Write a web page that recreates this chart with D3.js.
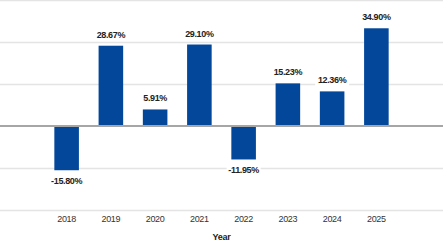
<!DOCTYPE html>
<html>
<head>
<meta charset="utf-8">
<script src="https://cdn.jsdelivr.net/npm/d3@7"></script>
<style>
  body { margin: 0; background: #fff; }
  svg { display: block; }
</style>
</head>
<body>
<div id="chart"></div>
<script>
var years = ["2018", "2019", "2020", "2021", "2022", "2023", "2024", "2025"];
var returns = [-15.80, 28.67, 5.91, 29.10, -11.95, 15.23, 12.36, 34.90];
var gridValues = [-30, -15, 0, 15, 30, 45];

var width = 443;
var height = 247;

var svg = d3.select('#chart')
  .append('svg')
  .attr('width', width)
  .attr('height', height);

var x = d3.scaleBand()
  .domain(years)
  .range([44.5, 398.5])
  .paddingInner(0.445)
  .paddingOuter(0.2225);

var y = d3.scaleLinear()
  .domain([-30, 45])
  .range([210, 0]);

// gridlines
svg.append('g')
  .selectAll('line')
  .data(gridValues.filter(function(d) { return d !== 0; }))
  .enter()
  .append('line')
  .attr('x1', 0)
  .attr('x2', width)
  .attr('y1', function(d) { return y(d) + 0.5; })
  .attr('y2', function(d) { return y(d) + 0.5; })
  .attr('stroke', '#e4e4e4')
  .attr('stroke-width', 1.5);

// bars
svg.append('g')
  .selectAll('rect')
  .data(returns)
  .enter()
  .append('rect')
  .attr('x', function(d, i) { return x(years[i]); })
  .attr('width', x.bandwidth())
  .attr('y', function(d) { return d > 0 ? y(d) : y(0); })
  .attr('height', function(d) { return Math.abs(y(d) - y(0)); })
  .attr('fill', '#02479a');

// zero line
svg.append('line')
  .attr('x1', 0)
  .attr('x2', width)
  .attr('y1', y(0))
  .attr('y2', y(0))
  .attr('stroke', '#a6a6a6')
  .attr('stroke-width', 2);

// value labels with white boxes
var labels = svg.append('g')
  .selectAll('g')
  .data(returns)
  .enter()
  .append('g')
  .attr('transform', function(d, i) {
    var cx = x(years[i]) + x.bandwidth() / 2;
    var ty = d > 0 ? y(d) - 8 : y(d) + 13.5;
    return 'translate(' + cx + ',' + ty + ')';
  });

labels.append('rect')
  .attr('x', -17)
  .attr('y', -9)
  .attr('width', 34)
  .attr('height', 12)
  .attr('fill', '#fff');

labels.append('text')
  .attr('text-anchor', 'middle')
  .attr('font-family', 'Liberation Sans, Arial, sans-serif')
  .attr('font-weight', 'bold')
  .attr('font-size', '9px')
  .attr('letter-spacing', '-0.35px')
  .attr('fill', '#222')
  .text(function(d) { return d.toFixed(2) + '%'; });

// x axis tick labels
var xAxis = svg.append('g')
  .attr('transform', 'translate(0,' + 221.5 + ')')
  .call(d3.axisBottom(x).tickSize(0).tickPadding(0));
xAxis.select('.domain').remove();
xAxis.selectAll('text')
  .attr('dy', 0)
  .attr('font-family', 'Liberation Sans, Arial, sans-serif')
  .attr('font-size', '9px')
  .attr('letter-spacing', '-0.35px')
  .attr('fill', '#333');

svg.append('text')
  .attr('x', 221.5)
  .attr('y', 240)
  .attr('text-anchor', 'middle')
  .attr('font-family', 'Liberation Sans, Arial, sans-serif')
  .attr('font-weight', 'bold')
  .attr('font-size', '9px')
  .attr('letter-spacing', '-0.2px')
  .attr('fill', '#222')
  .text('Year');
</script>
</body>
</html>
